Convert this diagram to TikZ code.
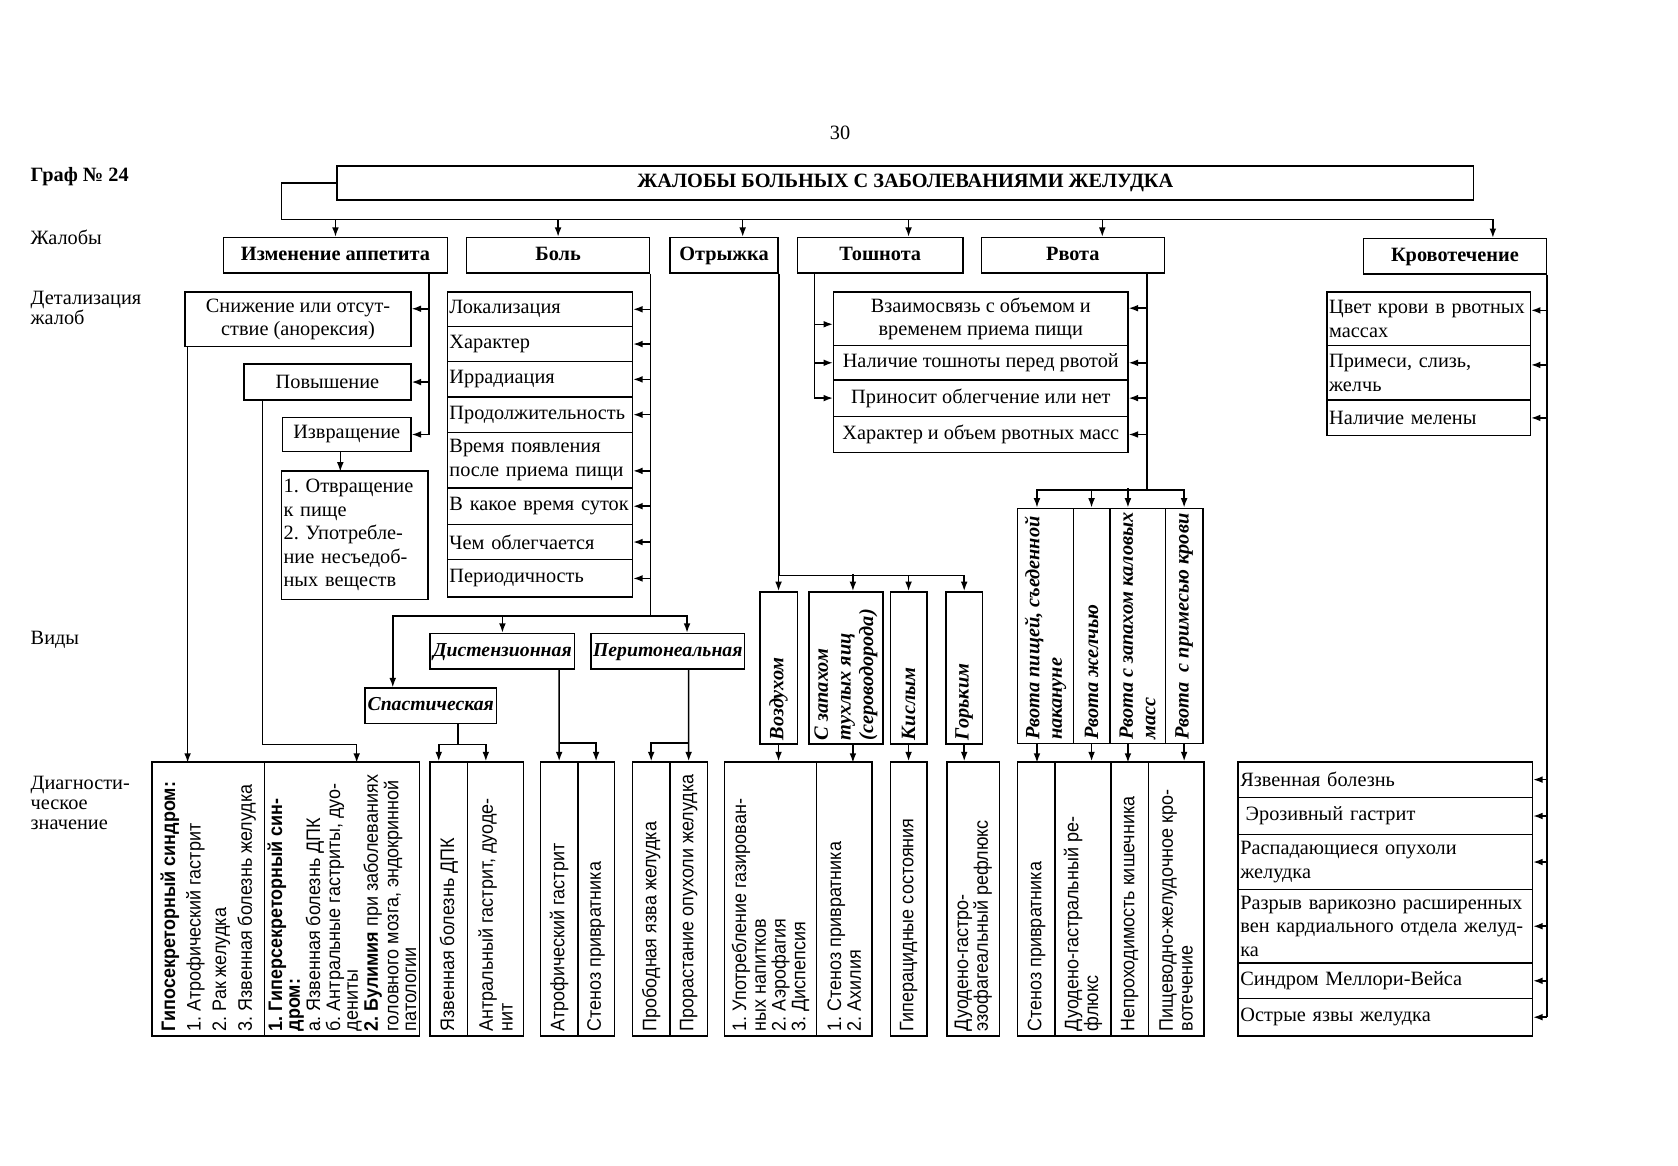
\documentclass[tikz,border=0pt]{standalone}
\usepackage{fontspec}
\setmainfont{Liberation Serif}
\newfontfamily\narrowsf[FakeStretch=0.92]{Liberation Sans}
\usepackage{graphicx}
\usetikzlibrary{positioning,arrows.meta,calc}
\newcommand{\vtxt}[2]{\rotatebox{90}{\parbox{#1}{\raggedright #2}}}
\frenchspacing

\begin{document}
\begin{tikzpicture}[
  x=0.02cm, y=-0.02cm, line width=0.8pt,
  box/.style   = {rectangle, draw, inner sep=0.04cm, align=center,
                  font=\fontsize{10.8}{12.5}\selectfont},
  hbox/.style  = {box, text height=1.6ex, text depth=0.45ex,
                  font=\fontsize{10.8}{12.5}\selectfont\bfseries},
  lbox/.style  = {box, align=left},
  kind/.style  = {box, text height=1.6ex, text depth=0.45ex,
                  font=\fontsize{10.5}{12}\selectfont\bfseries\itshape},
  vbox/.style  = {rectangle, draw, inner sep=0pt,
                  font=\narrowsf\fontsize{10.4}{10.5}\selectfont},
  vkind/.style = {vbox, font=\fontsize{10.8}{12}\selectfont\bfseries\itshape},
  lbl/.style   = {anchor=west, align=left, inner sep=0pt,
                  font=\fontsize{10.8}{10.6}\selectfont},
  arr/.style   = {-{Latex[length=5pt,width=3.6pt]}},
]
\useasboundingbox (0,0) rectangle (1568,1089);
% page and row labels
\node[lbl, anchor=center] (pnum) at (785,124) {30};
\node[lbl, font=\fontsize{10.8}{12.5}\selectfont\bfseries] (graf) at (28,165) {Граф №~24};
\node[lbl] (lzhal) at (28,222) {Жалобы};
\node[lbl] (ldet)  at (28,288) {Детализация\\жалоб};
\node[lbl] (lvid)  at (28,598) {Виды};
\node[lbl] (ldiag) at (28,750) {Диагности-\\ческое\\значение};
% title and complaints
\node[hbox, minimum width=21.24cm, minimum height=0.64cm] (title) at (846,171)
  {ЖАЛОБЫ БОЛЬНЫХ С ЗАБОЛЕВАНИЯМИ ЖЕЛУДКА};
\node[hbox, minimum width=4.18cm, minimum height=0.66cm] (ia)   at (313.5,238.5) {Изменение аппетита};
\node[hbox, minimum width=3.42cm, minimum height=0.66cm] (bol)  at (521.5,238.5) {Боль};
\node[hbox, minimum width=2.02cm, minimum height=0.66cm] (otr)  at (676.5,238.5) {Отрыжка};
\node[hbox, minimum width=3.10cm, minimum height=0.66cm] (tosh) at (822.5,238.5) {Тошнота};
\node[hbox, minimum width=3.42cm, minimum height=0.66cm] (rvo)  at (1002.5,238.5) {Рвота};
\node[hbox, minimum width=3.42cm, minimum height=0.66cm] (krov) at (1359.5,239.5) {Кровотечение};
% appetite
\node[box, minimum width=4.22cm, minimum height=1.02cm] (sniz) at (278.5,298.5)
  {Снижение или отсут-\\ствие (анорексия)};
\node[box, minimum width=3.12cm, minimum height=0.68cm] (pov) at (306,357) {Повышение};
\node[box, minimum width=2.40cm, minimum height=0.64cm] (izv) at (324,406) {Извращение};
\node[lbox, text width=2.66cm, minimum height=2.40cm] (otvr) at (331.5,500)
  {1. Отвращение\\к пище\\2. Употребле-\\ние несъедоб-\\ных веществ};
% pain details
\node[lbox, text width=3.38cm, minimum height=0.64cm] (lok)  at (504.5,289)   {Локализация};
\node[lbox, text width=3.38cm, minimum height=0.66cm] (har)  at (504.5,321.5) {Характер};
\node[lbox, text width=3.38cm, minimum height=0.66cm] (irr)  at (504.5,354.5) {Иррадиация};
\node[lbox, text width=3.38cm, minimum height=0.66cm] (prod) at (504.5,387.5) {Продолжительность};
\node[lbox, text width=3.38cm, minimum height=1.04cm] (vrem) at (504.5,430)   {Время появления\\после приема пищи};
\node[lbox, text width=3.38cm, minimum height=0.68cm] (sut)  at (504.5,473)   {В какое время суток};
\node[lbox, text width=3.38cm, minimum height=0.66cm] (obl)  at (504.5,506.5) {Чем облегчается};
\node[lbox, text width=3.38cm, minimum height=0.70cm] (per)  at (504.5,540.5) {Периодичность};
% pain kinds
\node[kind, minimum width=2.70cm, minimum height=0.66cm] (disten) at (469.5,608.5) {Дистензионная};
\node[kind, minimum width=2.72cm, minimum height=0.66cm] (perit)  at (624,608.5)   {Перитонеальная};
\node[kind, minimum width=2.46cm, minimum height=0.66cm] (spast)  at (402.5,659.5) {Спастическая};
% nausea / vomiting details
\node[box, minimum width=5.50cm, minimum height=1.00cm] (vzaim)  at (916.5,298) {Взаимосвязь с объемом и\\временем приема пищи};
\node[box, minimum width=5.50cm, minimum height=0.64cm] (nalich) at (916.5,339) {Наличие тошноты перед рвотой};
\node[box, minimum width=5.50cm, minimum height=0.68cm] (prinos) at (916.5,372) {Приносит облегчение или нет};
\node[box, minimum width=5.50cm, minimum height=0.68cm] (harob)  at (916.5,406) {Характер и объем рвотных масс};
% bleeding details
\node[lbox, text width=3.72cm, minimum height=1.00cm] (cvet)   at (1335,298)   {Цвет крови в рвотных\\массах};
\node[lbox, text width=3.72cm, minimum height=1.02cm] (prim)   at (1335,348.5) {Примеси, слизь,\\желчь};
\node[lbox, text width=3.72cm, minimum height=0.66cm] (melena) at (1335,390.5) {Наличие мелены};
% belching kinds
\node[vkind, minimum width=0.70cm, minimum height=2.84cm] (vozd)  at (727.5,624) {\vtxt{2.7cm}{Воздухом}};
\node[vkind, minimum width=1.38cm, minimum height=2.84cm] (zapah) at (790.5,624) {\vtxt{2.7cm}{С запахом\\тухлых яиц\\(сероводорода)}};
\node[vkind, minimum width=0.68cm, minimum height=2.84cm] (kisl)  at (849,624)   {\vtxt{2.7cm}{Кислым}};
\node[vkind, minimum width=0.68cm, minimum height=2.84cm] (gork)  at (901,624)   {\vtxt{2.7cm}{Горьким}};
% vomiting kinds
\node[vkind, minimum width=1.04cm, minimum height=4.40cm] (rv1) at (977,585)    {\vtxt{4.25cm}{Рвота пищей, съеденной\\накануне}};
\node[vkind, minimum width=0.68cm, minimum height=4.40cm] (rv2) at (1020,585)   {\vtxt{4.25cm}{Рвота желчью}};
\node[vkind, minimum width=1.04cm, minimum height=4.40cm] (rv3) at (1063,585)   {\vtxt{4.25cm}{Рвота с запахом каловых\\масс}};
\node[vkind, minimum width=0.70cm, minimum height=4.40cm] (rv4) at (1106.5,585) {\vtxt{4.25cm}{Рвота\ \ с примесью крови}};
% diagnostic value
\node[vbox, minimum width=2.10cm, minimum height=5.12cm, font=\narrowsf\fontsize{10.4}{13.6}\selectfont] (hypo) at (194.5,840)
  {\vtxt{4.95cm}{\textbf{Гипосекреторный синдром:}\\1. Атрофический гастрит\\2. Рак желудка\\3. Язвенная болезнь желудка}};
\node[vbox, minimum width=2.90cm, minimum height=5.12cm, font=\narrowsf\fontsize{10.4}{9.4}\selectfont] (hyper) at (319.5,840)
  {\vtxt{4.95cm}{\textbf{1. Гиперсекреторный син-}\\\textbf{дром:}\\а. Язвенная болезнь ДПК\\б. Антральные гастриты, дуо-\\дениты\\\textbf{2. Булимия} при заболеваниях\\головного мозга, эндокринной\\патологии}};
\node[vbox, minimum width=0.70cm, minimum height=5.12cm] (jbdpk)   at (419.5,840) {\vtxt{4.95cm}{Язвенная болезнь ДПК}};
\node[vbox, minimum width=1.04cm, minimum height=5.12cm] (antr)    at (463,840)   {\vtxt{4.95cm}{Антральный гастрит, дуоде-\\нит}};
\node[vbox, minimum width=0.70cm, minimum height=5.12cm] (atr)     at (522.5,840) {\vtxt{4.95cm}{Атрофический гастрит}};
\node[vbox, minimum width=0.68cm, minimum height=5.12cm] (sten1)   at (557,840)   {\vtxt{4.95cm}{Стеноз привратника}};
\node[vbox, minimum width=0.70cm, minimum height=5.12cm] (probod)  at (608.5,840) {\vtxt{4.95cm}{Прободная язва желудка}};
\node[vbox, minimum width=0.70cm, minimum height=5.12cm] (prorast) at (643.5,840) {\vtxt{4.95cm}{Прорастание опухоли желудка}};
\node[vbox, minimum width=1.72cm, minimum height=5.12cm] (dvozd)   at (720,840)   {\vtxt{4.95cm}{1. Употребление газирован-\\ных напитков\\2. Аэрофагия\\3. Диспепсия}};
\node[vbox, minimum width=1.04cm, minimum height=5.12cm] (dzapah)  at (789,840)   {\vtxt{4.95cm}{1. Стеноз привратника\\2. Ахилия}};
\node[vbox, minimum width=0.68cm, minimum height=5.12cm] (dkisl)   at (849,840)   {\vtxt{4.95cm}{Гиперацидные состояния}};
\node[vbox, minimum width=0.98cm, minimum height=5.12cm] (dgork)   at (909.5,840) {\vtxt{4.95cm}{Дуодено-гастро-\\эзофагеальный рефлюкс}};
\node[vbox, minimum width=0.70cm, minimum height=5.12cm] (drv1)    at (968.5,840) {\vtxt{4.95cm}{Стеноз привратника}};
\node[vbox, minimum width=1.04cm, minimum height=5.12cm] (drv2)    at (1012,840)  {\vtxt{4.95cm}{Дуодено-гастральный ре-\\флюкс}};
\node[vbox, minimum width=0.70cm, minimum height=5.12cm] (drv3)    at (1055.5,840) {\vtxt{4.95cm}{Непроходимость кишечника}};
\node[vbox, minimum width=1.04cm, minimum height=5.12cm] (drv4)    at (1099,840)  {\vtxt{4.95cm}{Пищеводно-желудочное кро-\\вотечение}};
\node[lbox, text width=5.42cm, minimum height=0.66cm] (yazv)    at (1294.5,728.5) {Язвенная болезнь};
\node[lbox, text width=5.42cm, minimum height=0.70cm] (eroz)    at (1294.5,762.5) {\hspace{0.1cm}Эрозивный гастрит};
\node[lbox, text width=5.42cm, minimum height=1.02cm] (raspad)  at (1294.5,805.5) {Распадающиеся опухоли\\желудка};
\node[lbox, text width=5.42cm, minimum height=1.38cm] (razryv)  at (1294.5,865.5) {Разрыв варикозно расширенных\\вен кардиального отдела желуд-\\ка};
\node[lbox, text width=5.42cm, minimum height=0.66cm] (mallory) at (1294.5,916.5) {Синдром Меллори-Вейса};
\node[lbox, text width=5.42cm, minimum height=0.70cm] (ostr)    at (1294.5,950.5) {Острые язвы желудка};
% title bus
\coordinate (busL) at (263,205);
\coordinate (busR) at (1395,205);
\coordinate (b3) at (694,205);
\coordinate (b4) at (849,205);
\coordinate (b5) at (1030,205);
\draw (title.west) -| (busL) -- (busR);
\draw[arr] (busL -| ia.north) -- (ia.north);
\draw[arr] (busL -| bol.north) -- (bol.north);
\draw[arr] (b3) -- (b3 |- otr.north);
\draw[arr] (b4) -- (b4 |- tosh.north);
\draw[arr] (b5) -- (b5 |- rvo.north);
\draw[arr] (busR) -- (busR |- krov.north);
% appetite branches
\draw[arr] ([xshift=1.75cm]ia.south) coordinate (iaV) |- (izv.east);
\draw[arr] ([yshift=0.2cm]sniz.east) ++(17,0) -- ++(-17,0);
\draw[arr] (pov.east -| iaV) -- (pov.east);
\draw[arr] ([xshift=-0.12cm]izv.south) -- ++(0,18);
\draw[arr] ([xshift=0.06cm]sniz.south west) -- ++(0,388);
\draw[arr] ([xshift=0.36cm]pov.south west) |- ++(88,321) -- ++(0,17);
% pain branches
\draw (bol.south east) -- ++(0,320) coordinate (vidy);
\foreach \n in {lok,har,irr,prod,sut,obl,per}
  \draw[arr] (\n.east -| vidy) -- (\n.east);
\draw[arr] ([yshift=-0.2cm]vrem.east) ++(16,0) -- ++(-16,0);
\draw[arr] (vidy) -| ([xshift=0.36cm]perit.north);
\draw[arr] (vidy) -| ([xshift=-0.71cm]spast.north);
\draw[arr] (vidy -| disten.north) -- (disten.north);
\draw ([xshift=0.51cm]spast.south) -- ++(0,19) coordinate (spB);
\draw[arr] (spB) -| ([xshift=-0.19cm]jbdpk.north);
\draw[arr] (spB) -| ([xshift=-0.18cm]antr.north);
\draw[arr] ([xshift=1.06cm]disten.south) -- (atr.north);
\draw[arr] ([yshift=0.34cm]atr.north) -| (sten1.north);
\draw[arr] ([xshift=0.39cm]perit.south) -- (prorast.north);
\draw[arr] ([yshift=0.34cm]prorast.north) -| (probod.north);
% belching branches
\draw (otr.south east) -- ++(0,282) coordinate (otrB);
\draw (otrB) -- (otrB -| gork.north);
\foreach \n in {vozd,kisl,gork}
  \draw[arr] (otrB -| \n.north) -- (\n.north);
\draw[arr] ([xshift=0.13cm,yshift=0.32cm]zapah.north) -- ([xshift=0.13cm]zapah.north);
\draw[arr] (vozd.south) -- (vozd.south |- dvozd.north);
\draw[arr] ([xshift=0.13cm]zapah.south) -- ++(0,17);
\draw[arr] (kisl.south) -- (dkisl.north);
\draw[arr] (gork.south) -- (gork.south |- dgork.north);
% nausea branches
\draw[arr] ([xshift=0.34cm]tosh.south west) coordinate (toshV) |- (prinos.west);
\draw[arr] (nalich.west -| toshV) -- (nalich.west);
\draw[arr] ([yshift=-0.1cm]vzaim.west) ++(-17,0) -- ++(17,0);
% vomiting branches
\draw ([xshift=-0.34cm]rvo.south east) -- ++(0,202) coordinate (rvB);
\foreach \n in {nalich,prinos,harob}
  \draw[arr] (\n.east -| rvB) -- (\n.east);
\draw[arr] ([yshift=0.2cm]vzaim.east) ++(17,0) -- ++(-17,0);
\draw[arr] (rvB) -| ([xshift=-0.16cm]rv1.north);
\draw[arr] (rvB) -| (rv4.north);
\draw[arr] (rvB -| rv2.north) -- (rv2.north);
\draw[arr] ([xshift=-0.18cm,yshift=0.36cm]rv3.north) -- ([xshift=-0.18cm]rv3.north);
\draw[arr] ([xshift=-0.16cm]rv1.south) -- ++(0,17);
\draw[arr] (rv2.south) -- (rv2.south |- drv2.north);
\draw[arr] ([xshift=-0.18cm]rv3.south) -- ++(0,17);
\draw[arr] (rv4.south) -- (rv4.south |- drv4.north);
% bleeding branches
\draw (krov.south east) -- (krov.south east |- ostr.east);
\foreach \n in {melena,yazv,eroz,raspad,razryv,mallory,ostr}
  \draw[arr] (\n.east -| krov.south east) -- (\n.east);
\draw[arr] ([yshift=0.16cm]cvet.east) ++(15,0) -- ++(-15,0);
\draw[arr] ([yshift=0.15cm]prim.east) ++(15,0) -- ++(-15,0);
\end{tikzpicture}
\end{document}
